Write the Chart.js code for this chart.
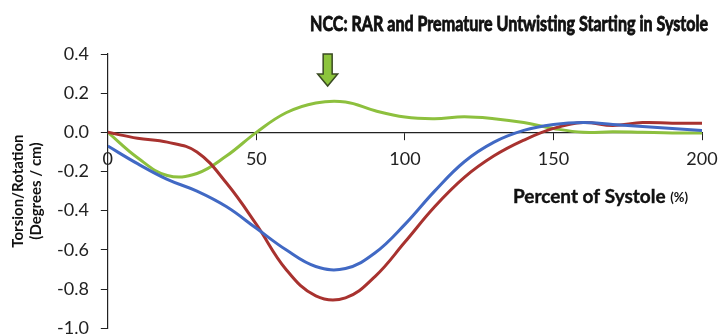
<!DOCTYPE html>
<html lang="en">
<head>
    <meta charset="UTF-8">
    <title>NCC: RAR and Premature Untwisting Starting in Systole</title>
    <script src="https://cdn.jsdelivr.net/npm/chart.js"></script>
    <style>
        html, body { margin: 0; padding: 0; background: #fff; overflow: hidden; }
        .chart-box { position: relative; width: 721px; height: 351px; }
    </style>
</head>
<body>
    <div class="chart-box">
        <canvas id="torsionChart"></canvas>
    </div>
    <script>
        // Percent of systole (x) and torsion/rotation for each curve
        const percentSystole = [0, 10, 20, 30, 40, 50, 60, 70, 80, 90, 100, 110, 120, 130, 140, 150, 160, 170, 180, 190, 200];
        const blueSeries  = [-0.07, -0.16, -0.24, -0.30, -0.38, -0.49, -0.60, -0.685, -0.695, -0.615, -0.47, -0.30, -0.15, -0.05, 0.01, 0.04, 0.05, 0.04, 0.03, 0.02, 0.01];
        const redSeries   = [0.00, -0.03, -0.05, -0.10, -0.26, -0.47, -0.70, -0.835, -0.845, -0.735, -0.56, -0.38, -0.23, -0.12, -0.04, 0.02, 0.05, 0.035, 0.05, 0.047, 0.047];
        const greenSeries = [0.00, -0.13, -0.22, -0.21, -0.12, 0.00, 0.10, 0.15, 0.155, 0.11, 0.078, 0.07, 0.08, 0.07, 0.05, 0.02, 0.00, 0.003, 0.00, -0.003, -0.003];
        const yTicks = [0.4, 0.2, 0.0, -0.2, -0.4, -0.6, -0.8, -1.0];
        const xTicks = [0, 50, 100, 150, 200];
        const arrowAtX = 74; // premature untwisting marker

        const toPoints = (ys) => percentSystole.map((x, i) => ({ x: x, y: ys[i] }));

        // squeeze text to a given width (title font is narrower in the original)
        function fitText(ctx, text, rightX, y, width, heavy) {
            const w = ctx.measureText(text).width;
            ctx.save();
            ctx.translate(rightX, y);
            ctx.scale(Math.min(1, width / w), 1);
            ctx.fillText(text, 0, 0);
            if (heavy) {
                ctx.lineWidth = heavy;
                ctx.strokeStyle = ctx.fillStyle;
                ctx.strokeText(text, 0, 0);
            }
            ctx.restore();
        }

        // draws chart title, x-axis title and the green arrow
        const extras = {
            id: 'extras',
            afterDraw(chart) {
                const ctx = chart.ctx;
                const area = chart.chartArea;
                const xs = chart.scales.x;
                ctx.save();
                ctx.fillStyle = '#111';
                ctx.textBaseline = 'middle';
                ctx.textAlign = 'right';
                ctx.font = 'bold 21px Lato';
                fitText(ctx, 'NCC: RAR and Premature Untwisting Starting in Systole', 708, 24, 398, 0.9);

                // x axis title, "(%)" smaller
                const endX = area.right - 14;
                ctx.font = 'bold 13px Lato';
                const pctW = ctx.measureText('(%)').width;
                ctx.fillText('(%)', endX, 198);
                ctx.font = 'bold 19px Lato';
                fitText(ctx, 'Percent of Systole ', endX - pctW, 197, 163, 0.4);

                // arrow
                const ax = xs.getPixelForValue(arrowAtX);
                const top = area.top, bottom = area.top + 32;
                ctx.beginPath();
                ctx.moveTo(ax - 4.5, top);
                ctx.lineTo(ax + 4.5, top);
                ctx.lineTo(ax + 4.5, bottom - 12);
                ctx.lineTo(ax + 10, bottom - 12);
                ctx.lineTo(ax, bottom);
                ctx.lineTo(ax - 10, bottom - 12);
                ctx.lineTo(ax - 4.5, bottom - 12);
                ctx.closePath();
                ctx.fillStyle = '#8cc43c';
                ctx.fill();
                ctx.lineWidth = 1.5;
                ctx.strokeStyle = '#3a4a22';
                ctx.stroke();
                ctx.restore();
            }
        };

        const ctx = document.getElementById('torsionChart').getContext('2d');
        new Chart(ctx, {
            type: 'line',
            data: {
                datasets: [
                    { label: 'Blue', data: toPoints(blueSeries), borderColor: '#4169c4', borderWidth: 3, pointRadius: 0, tension: 0.4, fill: false },
                    { label: 'Red', data: toPoints(redSeries), borderColor: '#a8322f', borderWidth: 3, pointRadius: 0, tension: 0.4, fill: false },
                    { label: 'Green', data: toPoints(greenSeries), borderColor: '#8dc03e', borderWidth: 3, pointRadius: 0, tension: 0.4, fill: false }
                ]
            },
            options: {
                responsive: true,
                maintainAspectRatio: false,
                animation: false,
                layout: { padding: { top: 54, right: 0, left: 9, bottom: 0 } },
                plugins: { legend: { display: false }, tooltip: { enabled: false }, title: { display: false } },
                scales: {
                    x: {
                        type: 'linear',
                        position: { y: 0 },
                        min: 0, max: 200,
                        afterBuildTicks: (axis) => { axis.ticks = xTicks.map(v => ({ value: v })); },
                        afterFit: (axis) => { axis.paddingRight = 19; },
                        ticks: { color: '#222', font: { family: 'Lato', size: 18 }, padding: 9, maxRotation: 0 },
                        grid: { drawOnChartArea: false, tickLength: 7, color: '#222' },
                        border: { color: '#222', width: 1.2 }
                    },
                    y: {
                        min: -1.0, max: 0.4,
                        afterBuildTicks: (axis) => { axis.ticks = yTicks.map(v => ({ value: v })); },
                        ticks: {
                            color: '#222', font: { family: 'Lato', size: 18 }, padding: 12,
                            callback: (v) => (Math.abs(v) < 1e-9 ? 0 : v).toFixed(1)
                        },
                        grid: { drawOnChartArea: false, tickLength: 7, color: '#222' },
                        border: { color: '#222', width: 1.2 },
                        title: {
                            display: true,
                            text: ['Torsion/Rotation', '(Degrees / cm)'],
                            color: '#111',
                            font: { family: 'Lato', size: 15, weight: 'bold', lineHeight: 1.2 },
                            padding: { top: 0, bottom: 0 }
                        }
                    }
                }
            },
            plugins: [extras]
        });
    </script>
</body>
</html>
